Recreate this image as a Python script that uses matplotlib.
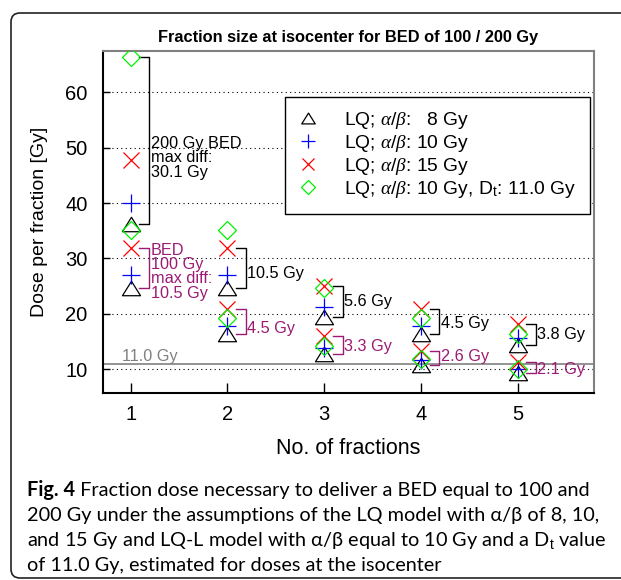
import matplotlib
matplotlib.use('Agg')
import matplotlib.pyplot as plt
from matplotlib.patches import FancyBboxPatch
from matplotlib.path import Path

plt.rcParams['font.family'] = ['Liberation Sans', 'DejaVu Sans']
plt.rcParams['mathtext.fontset'] = 'custom'
plt.rcParams['mathtext.rm'] = 'Liberation Sans'
plt.rcParams['mathtext.it'] = 'Liberation Serif:italic'

# ---------------- data ----------------
fractions = [1, 2, 3, 4, 5]
# BED 200 Gy
lq8_200 = [36.2, 24.6, 19.4, 16.4, 14.3]
lq10_200 = [40.0, 27.0, 21.3, 17.9, 15.6]
lq15_200 = [47.8, 31.9, 25.0, 20.9, 18.1]
lql_200 = [66.3, 35.1, 24.6, 19.2, 16.3]
# BED 100 Gy
lq8_100 = [24.6, 16.4, 12.8, 10.7, 9.3]
lq10_100 = [27.0, 17.9, 13.9, 11.6, 10.0]
lq15_100 = [31.9, 20.9, 16.1, 13.3, 11.4]
lql_100 = [35.1, 19.2, 14.2, 11.8, 10.0]
# brackets (max differences)
bracket_top_200 = [66.3, 31.9, 25.0, 20.9, 18.1]
bracket_bot_200 = [36.2, 24.6, 19.4, 16.4, 14.3]
bracket_top_100 = [31.9, 20.9, 16.1, 13.3, 11.4]
bracket_bot_100 = [24.6, 16.4, 12.8, 10.7, 9.3]
diff_200 = ['200 Gy BED\nmax diff:\n30.1 Gy', '10.5 Gy', '5.6 Gy', '4.5 Gy', '3.8 Gy']
diff_100 = ['BED\n100 Gy\nmax diff:\n10.5 Gy', '4.5 Gy', '3.3 Gy', '2.6 Gy', '2.1 Gy']
label_y_200 = [48.2, 27.3, 22.2, 18.2, 16.2]
label_y_100 = [27.6, 17.4, 14.2, 12.3, 10.0]
threshold = 11.0
yticks = [10, 20, 30, 40, 50, 60]
legend_labels = [r'LQ; $\alpha/\beta$:   8 Gy', r'LQ; $\alpha/\beta$: 10 Gy',
                 r'LQ; $\alpha/\beta$: 15 Gy',
                 r'LQ; $\alpha/\beta$: 10 Gy, D$_\mathrm{t}$: 11.0 Gy']
title = 'Fraction size at isocenter for BED of 100 / 200 Gy'
caption_bold = 'Fig. 4'
caption_lines = [' Fraction dose necessary to deliver a BED equal to 100 and',
                 '200 Gy under the assumptions of the LQ model with α/β of 8, 10,',
                 r'and 15 Gy and LQ-L model with α/β equal to 10 Gy and a D$_\mathrm{t}$ value',
                 'of 11.0 Gy, estimated for doses at the isocenter']

PURPLE = '#9c1a73'
GRAY = '#808080'

W, H = 621, 580
fig = plt.figure(figsize=(W / 100, H / 100), dpi=100)

# rounded frame
frame = FancyBboxPatch((11, H - 578), 660, 565, boxstyle='round,pad=0,rounding_size=9',
                       transform=None, fill=False, edgecolor='#222222', lw=1.2)
fig.patches.append(frame)

ax = fig.add_axes([102.7 / W, 1 - 392.7 / H, (594 - 102.7) / W, (392.7 - 50.7) / H])
ax.set_xlim(0.71, 5.79)
ax.set_ylim(5.78, 67.5)

tri = Path([(-1, -0.8), (1, -0.8), (0, 0.8), (-1, -0.8)],
           [Path.MOVETO, Path.LINETO, Path.LINETO, Path.CLOSEPOLY])

series = [
    (lq8_200, lq8_100, dict(marker=tri, ms=13, mfc='none', mec='black')),
    (lq10_200, lq10_100, dict(marker='+', ms=13, mec='blue')),
    (lq15_200, lq15_100, dict(marker='x', ms=11, mec='red')),
    (lql_200, lql_100, dict(marker='D', ms=9.5, mfc='none', mec='#00ee00')),
]
handles = []
for s200, s100, st in series:
    h, = ax.plot(fractions, s200, ls='none', mew=0.9, zorder=3, **st)
    ax.plot(fractions, s100, ls='none', mew=0.9, zorder=3, **st)
    handles.append(h)

# brackets
for i, x in enumerate(fractions):
    ax.plot([x + 0.09, x + 0.19, x + 0.19, x + 0.09],
            [bracket_bot_200[i], bracket_bot_200[i], bracket_top_200[i], bracket_top_200[i]],
            color='black', lw=1.0, zorder=2)
    ax.plot([x + 0.09, x + 0.19, x + 0.19, x + 0.09],
            [bracket_bot_100[i], bracket_bot_100[i], bracket_top_100[i], bracket_top_100[i]],
            color=PURPLE, lw=1.0, zorder=2)
    ax.text(x + 0.205, label_y_200[i], diff_200[i], ha='left', va='center',
            fontsize=11.7, color='black', linespacing=0.95, zorder=4)
    ax.text(x + 0.205, label_y_100[i], diff_100[i], ha='left', va='center',
            fontsize=11.7, color=PURPLE, linespacing=0.95, zorder=4)

ax.axhline(threshold, color=GRAY, lw=1.2, zorder=1.5)
ax.text(0.905, threshold + 1.4, '11.0 Gy', color=GRAY, fontsize=11.7, ha='left', va='center')

# axes styling
ax.set_yticks(yticks)
ax.set_xticks(fractions)
for y in yticks:
    ax.axhline(y, color='black', lw=0.8, ls=(0, (1, 3)), zorder=1)
ax.tick_params(axis='y', direction='in', length=5, width=1, labelsize=14.5, pad=11)
ax.tick_params(axis='x', direction='in', length=7, width=1, labelsize=14.5, pad=9)
for side in ['left', 'bottom']:
    ax.spines[side].set_color('black')
    ax.spines[side].set_linewidth(1.5)
for side in ['top', 'right']:
    ax.spines[side].set_color(GRAY)
    ax.spines[side].set_linewidth(1.5)

ax.set_xlabel('No. of fractions', fontsize=15.5, labelpad=10)
ax.set_ylabel('Dose per fraction [Gy]', fontsize=14, labelpad=12)
ax.set_title(title, fontsize=11.8, fontweight='bold', pad=6)

leg = ax.legend(handles, legend_labels, loc='upper left',
                bbox_to_anchor=(285 / W, 1 - 96.7 / H), bbox_transform=fig.transFigure,
                borderaxespad=0, fancybox=False, framealpha=1, edgecolor='black',
                fontsize=13.9, markerscale=0.75, handlelength=1.0, handletextpad=1.35,
                borderpad=0.7, labelspacing=0.1)
leg.get_frame().set_linewidth(1.0)
leg.set_zorder(5)

# caption
cap_font = ['Lato', 'DejaVu Sans']
cap_size = 14.3
baselines = [496, 521, 546, 571]
tb = fig.text(27 / W, 1 - baselines[0] / H, caption_bold, fontsize=cap_size, fontweight='bold',
              family=cap_font, va='baseline', ha='left')
renderer = fig.canvas.get_renderer()
bb = tb.get_window_extent(renderer)
fig.text(bb.x1 / W, 1 - baselines[0] / H, caption_lines[0], fontsize=cap_size,
         family=cap_font, va='baseline', ha='left')
for line, yb in zip(caption_lines[1:], baselines[1:]):
    fig.text(27 / W, 1 - yb / H, line, fontsize=cap_size, family=cap_font,
             va='baseline', ha='left')

fig.savefig('out.png', dpi=100)
